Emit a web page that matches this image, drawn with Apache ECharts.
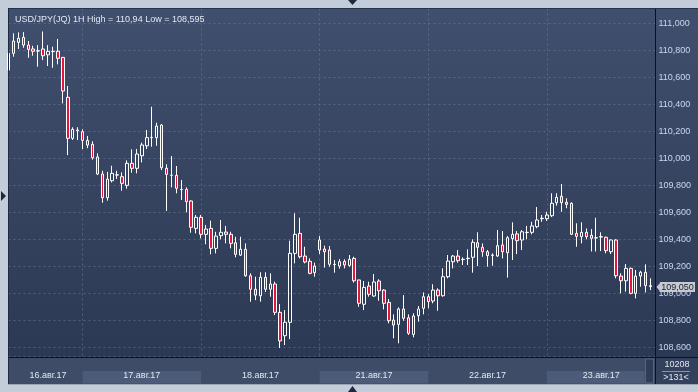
<!DOCTYPE html>
<html><head><meta charset="utf-8">
<script src="https://cdn.jsdelivr.net/npm/echarts@6/dist/echarts.min.js"></script>
<style>html,body{margin:0;padding:0;background:#c3cdda;}#c{width:698px;height:392px;}</style>
</head><body><div id="c"></div>
<script>
// ---- data ----
const dayLabels = ['16.авг.17','17.авг.17','18.авг.17','21.авг.17','22.авг.17','23.авг.17'];
const dayFirstHour = [9, 0, 0, 2, 0, 0];
const dayCandles = [15, 24, 24, 22, 24, 22];
const instrument = 'USD/JPY(JQ) 1H';
const volumeText = '10208';
const visibleText = '>131<';
const yMin = 108.532, yMax = 111.11, yStep = 0.2;

const opens = [
110.654,110.778,110.859,110.896,110.839,110.810,110.795,110.810,110.767,110.791,
110.793,110.748,110.452,110.148,110.205,110.197,110.133,110.104,110.010,109.884,
109.708,109.834,109.876,109.864,109.800,109.963,109.926,110.019,110.093,110.153,
110.153,110.247,109.926,109.874,109.874,109.768,109.770,109.684,109.481,109.563,
109.437,109.481,109.333,109.427,109.454,109.437,109.375,109.283,109.326,109.130,
109.030,108.982,109.119,109.030,109.069,108.859,108.686,108.785,109.296,109.444,
109.276,109.237,109.153,109.395,109.328,109.321,109.213,109.202,109.237,109.207,
109.259,109.099,108.919,109.054,108.980,109.091,109.024,108.933,108.802,108.770,
108.884,108.819,108.696,108.834,108.889,108.975,108.943,109.024,108.982,109.123,
109.234,109.276,109.250,109.257,109.267,109.375,109.341,109.308,109.281,109.276,
109.358,109.301,109.405,109.440,109.395,109.450,109.452,109.494,109.553,109.553,
109.575,109.671,109.719,109.674,109.667,109.444,109.419,109.452,109.430,109.410,
109.417,109.415,109.308,109.395,109.128,109.093,109.185,109.000,109.128,109.156,
109.057];
const closes = [
110.778,110.869,110.889,110.839,110.807,110.793,110.797,110.760,110.793,110.793,
110.741,110.499,110.148,110.215,110.210,110.133,110.098,110.004,109.884,109.708,
109.846,109.889,109.878,109.815,109.963,109.926,110.032,110.099,110.153,110.155,
110.239,109.930,109.881,109.875,109.778,109.770,109.679,109.489,109.563,109.437,
109.476,109.333,109.424,109.452,109.437,109.370,109.289,109.326,109.130,109.030,
108.987,109.119,109.030,109.069,108.859,108.647,108.786,109.296,109.437,109.271,
109.232,109.148,109.202,109.321,109.308,109.215,109.215,109.234,109.210,109.252,
109.093,108.926,109.044,108.993,109.084,109.019,108.926,108.797,108.765,108.884,
108.815,108.704,108.832,108.884,108.975,108.938,109.024,108.982,109.123,109.239,
109.276,109.242,109.252,109.260,109.378,109.341,109.308,109.279,109.284,109.353,
109.308,109.412,109.437,109.390,109.456,109.452,109.499,109.543,109.556,109.580,
109.667,109.711,109.671,109.659,109.437,109.422,109.452,109.419,109.407,109.412,
109.420,109.316,109.395,109.130,109.093,109.185,109.000,109.128,109.156,109.057,
109.050];
const lows = [
110.650,110.753,110.810,110.819,110.745,110.760,110.679,110.728,110.684,110.671,
110.696,110.407,110.024,110.136,110.136,110.069,110.075,109.990,109.876,109.671,
109.686,109.822,109.847,109.760,109.775,109.893,109.889,109.970,110.069,110.086,
110.093,109.913,109.610,109.785,109.741,109.691,109.600,109.449,109.444,109.407,
109.363,109.289,109.296,109.400,109.370,109.333,109.267,109.276,109.123,108.938,
108.950,108.938,109.010,108.975,108.839,108.595,108.617,108.661,109.222,109.259,
109.222,109.141,109.123,109.291,109.190,109.197,109.153,109.182,109.185,109.197,
109.079,108.900,108.876,108.975,108.973,108.945,108.881,108.778,108.667,108.630,
108.797,108.691,108.674,108.790,108.844,108.889,108.926,108.871,108.975,109.111,
109.185,109.227,109.210,109.210,109.153,109.202,109.271,109.197,109.204,109.271,
109.259,109.116,109.247,109.291,109.321,109.400,109.437,109.482,109.530,109.536,
109.565,109.649,109.604,109.630,109.432,109.345,109.370,109.400,109.310,109.310,
109.313,109.296,109.291,109.111,109.000,109.012,108.993,108.963,109.049,109.007,
109.024];
const highs = [
110.780,110.926,110.933,110.935,110.869,110.834,110.839,110.940,110.839,110.827,
110.884,110.750,110.536,110.230,110.230,110.215,110.166,110.126,110.037,109.908,
109.900,109.945,109.908,109.896,109.985,110.067,110.069,110.116,110.210,110.382,
110.264,110.254,109.956,110.017,109.943,109.839,109.785,109.690,109.580,109.580,
109.506,109.538,109.456,109.543,109.499,109.456,109.419,109.419,109.370,109.148,
109.123,109.156,109.156,109.148,109.086,108.920,108.876,109.390,109.593,109.560,
109.345,109.259,109.227,109.424,109.353,109.350,109.247,109.254,109.252,109.284,
109.271,109.100,109.091,109.086,109.143,109.104,109.030,108.958,108.844,108.896,
108.987,108.844,108.852,108.906,109.007,108.995,109.067,109.037,109.185,109.284,
109.284,109.321,109.267,109.326,109.400,109.452,109.370,109.321,109.296,109.469,
109.461,109.424,109.526,109.461,109.469,109.500,109.530,109.639,109.580,109.604,
109.741,109.741,109.810,109.704,109.674,109.519,109.526,109.481,109.476,109.560,
109.452,109.420,109.400,109.400,109.148,109.217,109.190,109.173,109.167,109.215,
109.111];

// ---- derived structures ----
const categories = [], dayStart = [], dayLabelIdx = [];
dayLabels.forEach((d, k) => {
  dayStart.push(categories.length);
  dayLabelIdx.push(categories.length + Math.round(dayCandles[k] / 2));
  for (let h = 0; h < dayCandles[k]; h++) {
    categories.push(d + ' ' + String(dayFirstHour[k] + h).padStart(2, '0') + ':00');
  }
});
categories.push(''); // empty slot at right edge
const gridSet = new Set(dayStart.slice(1));
const labelSet = new Set(dayLabelIdx);
const candleData = opens.map((o, i) => [o, closes[i], lows[i], highs[i]]);
const fmt = v => String(v).replace('.', ',');
const titleText = instrument + ' High = ' + fmt(Math.max(...highs)) + ' Low = ' + fmt(Math.min(...lows));

const FONT = "'Liberation Sans', Arial, sans-serif";
const GRIDC = 'rgba(125,142,175,0.42)';

const chart = echarts.init(document.getElementById('c'));
chart.setOption({
  backgroundColor: '#c3cdda',
  animation: false,
  title: { text: titleText, left: 10, top: 10, z: 8,
    textStyle: { color: '#e2e8f3', fontSize: 9, fontWeight: 'normal', fontFamily: FONT, lineHeight: 10 } },
  grid: { left: 8.5, top: 8.5, width: 647, height: 348 },
  xAxis: {
    type: 'category', data: categories, boundaryGap: false, z: 5,
    axisLine: { show: false }, axisTick: { show: false },
    axisLabel: { interval: i => labelSet.has(i), formatter: v => v.split(' ')[0],
      color: '#e2e8f3', fontSize: 9, margin: 15, fontFamily: FONT },
    splitLine: { show: true, interval: i => gridSet.has(i),
      lineStyle: { color: GRIDC, type: [2, 3], width: 1 } }
  },
  yAxis: {
    type: 'value', position: 'right', min: yMin, max: yMax, minInterval: yStep, maxInterval: yStep, z: 5,
    axisLine: { show: false }, axisTick: { show: false },
    axisLabel: { showMinLabel: false, showMaxLabel: false, margin: 3, color: '#c9d8ef', fontSize: 9,
      fontFamily: FONT, formatter: v => v.toFixed(3).replace('.', ',') },
    splitLine: { show: true, lineStyle: { color: GRIDC, type: [2, 3], width: 1 } }
  },
  series: [{
    type: 'candlestick', data: candleData, barWidth: 3, z: 6,
    itemStyle: { color: 'rgba(0,0,0,0)', color0: '#e3173e', borderColor: '#ffffff', borderColor0: '#ffffff', borderWidth: 1 }
  }]
});

// ---- decorations positioned through the chart's own scales ----
const xp = i => chart.convertToPixel({ xAxisIndex: 0 }, i);
const lastClose = closes[closes.length - 1];
const yLast = Math.round(chart.convertToPixel({ yAxisIndex: 0 }, lastClose));
const grad = () => new echarts.graphic.LinearGradient(0, 0, 0, 1, [
  { offset: 0, color: '#404f6d' }, { offset: 1, color: '#2c3954' }]);

const g = [];
g.push({ type: 'rect', z: 0, shape: { x: 8, y: 8, width: 690, height: 349 }, style: { fill: grad() } });
g.push({ type: 'rect', z: 0, shape: { x: 8, y: 357, width: 690, height: 27 }, style: { fill: '#3e4c67' } });
const bandEnd = [];
for (let k = 0; k < dayStart.length; k++) {
  const x0 = k === 0 ? 8 : xp(dayStart[k]);
  const x1 = k < dayStart.length - 1 ? xp(dayStart[k + 1]) : xp(categories.length - 1) - 11;
  if (k % 2 === 1) g.push({ type: 'rect', z: 1, shape: { x: x0, y: 371, width: x1 - x0, height: 12.5 }, style: { fill: '#4c5b77' } });
  bandEnd.push(x1);
}
const thumbX = bandEnd[bandEnd.length - 1] + 1;
g.push({ type: 'rect', z: 1, shape: { x: thumbX, y: 359, width: 8, height: 24 }, style: { fill: '#303d57', stroke: '#56647e', lineWidth: 1 } });
// bottom-right box
g.push({ type: 'rect', z: 20, shape: { x: 656, y: 358, width: 42, height: 26 }, style: { fill: '#34415c' } });
g.push({ type: 'line', z: 21, shape: { x1: 662, y1: 371.5, x2: 690, y2: 371.5 }, style: { stroke: '#8a96ab', lineWidth: 1 } });
g.push({ type: 'text', z: 21, x: 677, y: 365, style: { text: volumeText, fill: '#e3e8f0', font: '9px ' + FONT, textAlign: 'center', textVerticalAlign: 'middle' } });
g.push({ type: 'text', z: 21, x: 676, y: 377.5, style: { text: visibleText, fill: '#e3e8f0', font: '9px ' + FONT, textAlign: 'center', textVerticalAlign: 'middle' } });
// frame lines
g.push({ type: 'line', z: 20, shape: { x1: 8, y1: 357.5, x2: 698, y2: 357.5 }, style: { stroke: '#0c111c', lineWidth: 1 } });
g.push({ type: 'line', z: 20, shape: { x1: 655.5, y1: 8, x2: 655.5, y2: 384 }, style: { stroke: '#0c111c', lineWidth: 1 } });
g.push({ type: 'line', z: 20, shape: { x1: 8, y1: 8.5, x2: 698, y2: 8.5 }, style: { stroke: '#27324a', lineWidth: 1 } });
g.push({ type: 'line', z: 20, shape: { x1: 8.5, y1: 8, x2: 8.5, y2: 384 }, style: { stroke: '#1f2940', lineWidth: 1 } });
g.push({ type: 'line', z: 20, shape: { x1: 8, y1: 384.5, x2: 698, y2: 384.5 }, style: { stroke: '#9aa6b8', lineWidth: 1 } });
// scroll arrows
g.push({ type: 'polygon', z: 20, shape: { points: [[348, 0], [357, 0], [352.5, 5]] }, style: { fill: '#1e2940' } });
g.push({ type: 'polygon', z: 20, shape: { points: [[348, 392], [357, 392], [352.5, 386]] }, style: { fill: '#1e2940' } });
g.push({ type: 'polygon', z: 20, shape: { points: [[1, 191], [1, 201], [6, 196]] }, style: { fill: '#1e2940' } });
// last price tag
g.push({ type: 'polygon', z: 22, shape: { points: [[656.5, yLast], [660.5, yLast - 4.5], [660.5, yLast + 5]] }, style: { fill: '#c6cad0' } });
g.push({ type: 'rect', z: 22, shape: { x: 660, y: yLast - 5, width: 35, height: 10 }, style: { fill: '#c6cad0' } });
g.push({ type: 'text', z: 23, x: 677.5, y: yLast + 0.5, style: { text: lastClose.toFixed(3).replace('.', ','), fill: '#1a2030', font: '9px ' + FONT, textAlign: 'center', textVerticalAlign: 'middle' } });

chart.setOption({ graphic: g });
</script></body></html>
